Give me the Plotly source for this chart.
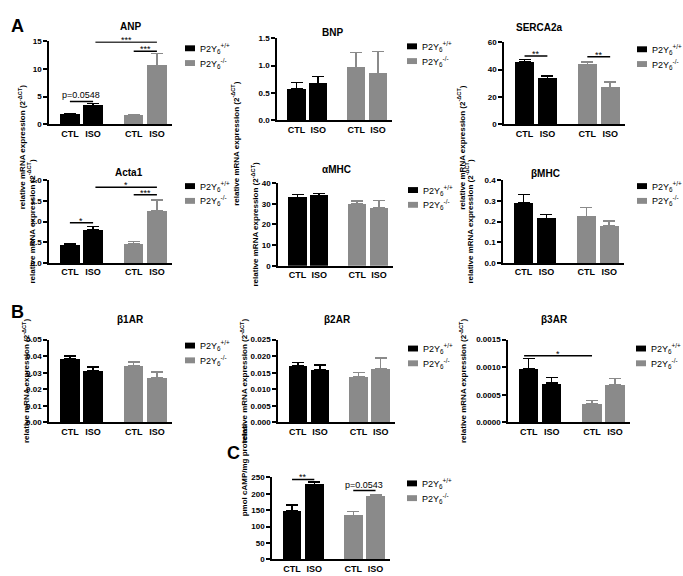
import plotly.graph_objects as go

W, H = 683, 576
FONT = "Liberation Sans, Arial, sans-serif"
BLACK = "#000000"
GREY = "#8a8a8a"

# ---------------- data ----------------
conditions = ["CTL", "ISO", "CTL", "ISO"]
genotypes = ["P2Y<sub>6</sub><sup>+/+</sup>", "P2Y<sub>6</sub><sup>-/-</sup>"]

anp_mean = [1.7, 3.4, 1.6, 10.6]
anp_sem = [0.15, 0.3, 0.1, 2.2]
bnp_mean = [0.57, 0.67, 0.96, 0.85]
bnp_sem = [0.12, 0.13, 0.28, 0.41]
serca_mean = [45.5, 33.5, 43.5, 27.0]
serca_sem = [2.0, 2.0, 2.0, 4.0]
acta1_mean = [0.44, 0.80, 0.46, 1.25]
acta1_sem = [0.03, 0.08, 0.06, 0.27]
amhc_mean = [33.0, 34.0, 30.0, 28.0]
amhc_sem = [1.5, 1.0, 1.3, 3.5]
bmhc_mean = [0.29, 0.215, 0.225, 0.178]
bmhc_sem = [0.04, 0.018, 0.043, 0.024]
b1ar_mean = [0.0385, 0.031, 0.0345, 0.0272]
b1ar_sem = [0.0017, 0.0025, 0.002, 0.0033]
b2ar_mean = [0.0171, 0.0158, 0.0137, 0.0163]
b2ar_sem = [0.001, 0.0015, 0.0014, 0.0032]
b3ar_mean = [0.00098, 0.00071, 0.00034, 0.00068]
b3ar_sem = [0.00018, 0.0001, 0.00006, 0.00012]
camp_mean = [147, 228, 134, 193]
camp_sem = [19, 8, 12, 5]

# ---------------- layout spec ----------------
XPOS = [0, 1, 2.75, 3.75]
YLAB = "relative mRNA expression (2<sup>-ΔCT</sup>)"

panels = [
    dict(title="ANP", mean=anp_mean, sem=anp_sem, box=(49, 172, 38, 122), ymax=15, dtick=5, fmt="d",
         tpos=(118, 15), leg=(185, 45), ylx=15, ylab=YLAB,
         sig=[(0, 1, 4.1, "p=0.0548"), (1.1, 3.75, 14.9, "***"), (2.75, 3.75, 13.2, "***")]),
    dict(title="BNP", mean=bnp_mean, sem=bnp_sem, box=(277, 392, 35, 118), ymax=1.5, dtick=0.5, fmt=".1f",
         tpos=(332, 21), leg=(407, 43), ylx=235, ylab=YLAB, sig=[]),
    dict(title="SERCA2a", mean=serca_mean, sem=serca_sem, box=(504, 625, 39, 122), ymax=60, dtick=20, fmt="d",
         tpos=(565, 16), leg=(637, 46), ylx=468, ylab=YLAB,
         sig=[(0, 1, 50, "**"), (2.75, 3.75, 49.5, "**")]),
    dict(title="Acta1", mean=acta1_mean, sem=acta1_sem, box=(49, 172, 179, 263), ymax=2.0, dtick=0.5, fmt=".1f",
         tpos=(113, 164), leg=(185, 185), ylx=24, ylab=YLAB,
         sig=[(0, 1, 0.97, "*"), (2.75, 3.75, 1.65, "***"), (1.1, 3.75, 1.83, "*")]),
    dict(title="αMHC", mean=amhc_mean, sem=amhc_sem, box=(278, 393, 182, 266), ymax=40, dtick=10, fmt="d",
         tpos=(336, 161), leg=(408, 189), ylx=255, ylab=YLAB, sig=[]),
    dict(title="βMHC", mean=bmhc_mean, sem=bmhc_sem, box=(503, 624, 179, 263), ymax=0.4, dtick=0.1, fmt=".1f",
         tpos=(562, 165), leg=(637, 185), ylx=476, ylab=YLAB, sig=[]),
    dict(title="β1AR", mean=b1ar_mean, sem=b1ar_sem, box=(49, 172, 341, 425), ymax=0.05, dtick=0.01, fmt=".2f",
         tpos=(115, 321), leg=(185, 347), ylx=19, ylab=YLAB, sig=[]),
    dict(title="β2AR", mean=b2ar_mean, sem=b2ar_sem, box=(278, 395, 341, 425), ymax=0.025, dtick=0.005, fmt=".3f",
         tpos=(337, 321), leg=(408, 350), ylx=244, ylab=YLAB, sig=[]),
    dict(title="β3AR", mean=b3ar_mean, sem=b3ar_sem, box=(508, 630, 341, 425), ymax=0.0015, dtick=0.0005, fmt=".4f",
         tpos=(570, 321), leg=(636, 350), ylx=470, ylab=YLAB,
         sig=[(-0.2, 2.75, 0.00121, "*")]),
    dict(title="", mean=camp_mean, sem=camp_sem, box=(272, 390, 481, 564), ymax=250, dtick=50, fmt="d",
         tpos=None, leg=(407, 487), ylx=244, ylab="pmol cAMP/mg proteins",
         sig=[(0, 1, 244, "**"), (2.75, 3.75, 210, "p=0.0543")]),
]


def px(x):
    return x / W


def py(y):
    return 1 - y / H


fig = go.Figure()
shapes = []
annotations = []

for i, p in enumerate(panels, start=1):
    xa = "x" if i == 1 else f"x{i}"
    ya = "y" if i == 1 else f"y{i}"
    x0, x1, yt, yb = p["box"]
    m, s = p["mean"], p["sem"]
    for g, (idx, col) in enumerate([((0, 1), BLACK), ((2, 3), GREY)]):
        fig.add_trace(go.Bar(
            x=[XPOS[k] for k in idx], y=[m[k] for k in idx],
            width=0.84, marker=dict(color=col, line=dict(width=0)),
            error_y=dict(type="data", symmetric=False, array=[s[k] for k in idx],
                         arrayminus=[0, 0], color=col, thickness=1.5, width=6),
            xaxis=xa, yaxis=ya, showlegend=False, name=genotypes[g],
        ))
    fig.update_layout(**{
        ("xaxis" if i == 1 else f"xaxis{i}"): dict(
            domain=[px(x0), px(x1)], anchor=ya, range=[-0.9, 4.4],
            tickvals=XPOS, ticktext=conditions, ticks="",
            tickfont=dict(family=FONT, size=9, color="black", weight="bold"),
            showline=True, linecolor="black", linewidth=1.5,
            showgrid=False, zeroline=False, fixedrange=True),
        ("yaxis" if i == 1 else f"yaxis{i}"): dict(
            domain=[py(yb), py(yt)], anchor=xa, range=[0, p["ymax"]],
            dtick=p["dtick"], tick0=0, tickformat=p["fmt"], ticks="outside",
            ticklen=4, tickwidth=1.5, tickcolor="black",
            tickfont=dict(family=FONT, size=8, color="black", weight="bold"),
            showline=True, linecolor="black", linewidth=1.5,
            showgrid=False, zeroline=False, fixedrange=True),
    })
    # title
    if p["tpos"]:
        annotations.append(dict(x=px(p["tpos"][0]), y=py(p["tpos"][1]), xref="paper", yref="paper",
                                text=f"<b>{p['title']}</b>", showarrow=False,
                                font=dict(family=FONT, size=10, color="black")))
    # y label
    annotations.append(dict(x=px(p["ylx"]), y=py((yt + yb) / 2), xref="paper", yref="paper",
                            text=f"<b>{p['ylab']}</b>", textangle=-90, showarrow=False,
                            font=dict(family=FONT, size=8, color="black")))
    # legend
    lx, ly = p["leg"]
    for g, col in enumerate([BLACK, GREY]):
        cy = ly + g * 15
        shapes.append(dict(type="rect", xref="paper", yref="paper",
                           x0=px(lx), x1=px(lx + 10), y0=py(cy + 3), y1=py(cy - 3),
                           fillcolor=col, line=dict(width=0)))
        annotations.append(dict(x=px(lx + 13), y=py(cy), xref="paper", yref="paper",
                                xanchor="left", yanchor="middle", text=genotypes[g], showarrow=False,
                                font=dict(family=FONT, size=9, color="black")))
    # significance marks
    for (sx0, sx1, sy, txt) in p["sig"]:
        shapes.append(dict(type="line", xref=xa, yref=ya, x0=sx0, x1=sx1, y0=sy, y1=sy,
                           line=dict(color="black", width=1.5)))
        stars = txt.startswith("*")
        annotations.append(dict(x=(sx0 + sx1) / 2, y=sy, xref=xa, yref=ya, yanchor="bottom",
                                yshift=-4 if stars else 0, borderpad=0,
                                text=txt, showarrow=False,
                                font=dict(family=FONT, size=9, color="black")))

for letter, (lx, ly) in {"A": (9, 10), "B": (9, 313), "C": (225, 468)}.items():
    annotations.append(dict(x=px(lx), y=py(ly), xref="paper", yref="paper", text=f"<b>{letter}</b>",
                            showarrow=False, font=dict(family=FONT, size=18, color="black")))

fig.update_layout(
    width=W, height=H, autosize=False,
    margin=dict(l=0, r=0, t=0, b=0),
    paper_bgcolor="white", plot_bgcolor="white",
    shapes=shapes, annotations=annotations,
    showlegend=False, bargap=0,
    font=dict(family=FONT, color="black"),
)

fig.write_html("out.html", include_plotlyjs=True, config={"displayModeBar": False},
               post_script="document.body.style.margin='0';")
